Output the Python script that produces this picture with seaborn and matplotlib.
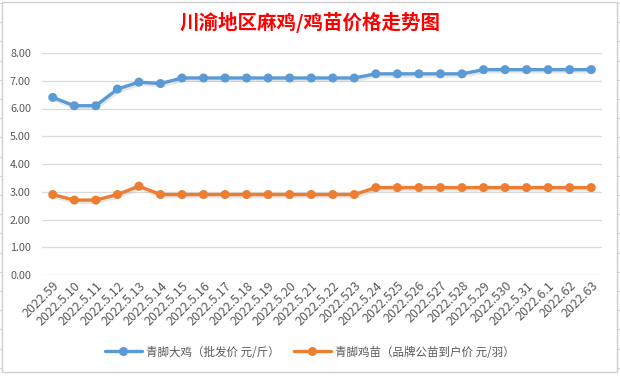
import numpy as np
import pandas as pd
import matplotlib
matplotlib.use("Agg")
import matplotlib.pyplot as plt
import matplotlib.patheffects as pe
from matplotlib.patches import Rectangle
from matplotlib.lines import Line2D
import seaborn as sns

# data
dates = ["2022.59", "2022.5.10", "2022.5.11", "2022.5.12", "2022.5.13", "2022.5.14",
         "2022.5.15", "2022.5.16", "2022.5.17", "2022.5.18", "2022.5.19", "2022.5.20",
         "2022.5.21", "2022.5.22", "2022.523", "2022.5.24", "2022.525", "2022.526",
         "2022.527", "2022.528", "2022.5.29", "2022.530", "2022.5.31", "2022.6.1",
         "2022.62", "2022.63"]
big_chicken = [6.40, 6.10, 6.10, 6.70, 6.95, 6.90, 7.10, 7.10, 7.10, 7.10, 7.10, 7.10,
               7.10, 7.10, 7.10, 7.25, 7.25, 7.25, 7.25, 7.25, 7.40, 7.40, 7.40, 7.40,
               7.40, 7.40]
chick = [2.90, 2.70, 2.70, 2.90, 3.20, 2.90, 2.90, 2.90, 2.90, 2.90, 2.90, 2.90,
         2.90, 2.90, 2.90, 3.15, 3.15, 3.15, 3.15, 3.15, 3.15, 3.15, 3.15, 3.15,
         3.15, 3.15]
series_names = ["青脚大鸡（批发价 元/斤）", "青脚鸡苗（品牌公苗到户价 元/羽）"]
title = "川渝地区麻鸡/鸡苗价格走势图"

sns.set_theme(style="white")
plt.rcParams['font.family'] = ['Noto Sans CJK SC', 'DejaVu Sans']

df = pd.DataFrame({"idx": list(range(len(dates))) * 2,
                   "price": big_chicken + chick,
                   "series": [series_names[0]] * len(dates) + [series_names[1]] * len(dates)})

fig = plt.figure(figsize=(6.2, 3.76), dpi=100)
fig.patch.set_facecolor("white")

# chart frame + spreadsheet row lines outside it
fig.patches.append(Rectangle((2 / 620, 1 - 372 / 376), 615 / 620, 370 / 376,
                             transform=fig.transFigure, fill=False,
                             edgecolor="#d0d0d0", linewidth=1))
for yy in np.arange(3, 376, 19.2):
    y = 1 - yy / 376
    fig.lines.append(Line2D([0, 2 / 620], [y, y], transform=fig.transFigure, color="#d0d0d0", lw=0.8))
    fig.lines.append(Line2D([617 / 620, 1], [y, y], transform=fig.transFigure, color="#d0d0d0", lw=0.8))

ax = fig.add_axes([42 / 620, 1 - 275 / 376, 560 / 620, 222 / 376])
palette = ["#5B9BD5", "#ED7D31"]
sns.lineplot(data=df, x="idx", y="price", hue="series", palette=palette, ax=ax,
             marker="o", markersize=6.5, markeredgewidth=0, linewidth=2.4, legend=False)

for line in ax.lines:
    line.set_path_effects([pe.SimpleLineShadow(offset=(0.8, -1.6), shadow_color="#b0b0b0", alpha=0.3),
                           pe.Normal()])

ax.set_xlim(-0.5, len(dates) - 0.5)
ax.set_ylim(0, 8)
ax.set_yticks(np.arange(0, 8.01, 1))
ax.set_yticklabels([f"{v:.2f}" for v in np.arange(0, 8.01, 1)], fontsize=7.8, color="#595959")
ax.set_xticks(range(len(dates)))
ax.set_xticklabels(dates, rotation=45, ha="right", rotation_mode="anchor",
                   fontsize=9, color="#595959")
ax.tick_params(axis="both", length=0)
ax.tick_params(axis="y", pad=8)
ax.tick_params(axis="x", pad=3)
ax.grid(axis="y", color="#d9d9d9", linewidth=0.9)
ax.set_axisbelow(True)
for s in ax.spines.values():
    s.set_visible(False)
ax.set_xlabel("")
ax.set_ylabel("")

fig.text(0.5, 1 - 22 / 376, title, ha="center", va="center", fontsize=14,
         fontweight="bold", color="#FF0000")

handles = [Line2D([], [], color=c, lw=2.4, marker="o", markersize=6.5, markeredgewidth=0) for c in palette]
fig.legend(handles, series_names, loc="center", bbox_to_anchor=(0.5, 1 - 352 / 376), ncol=2,
           frameon=False, fontsize=8.3, handlelength=3.2, columnspacing=1.2, handletextpad=0.4,
           labelcolor="#595959")

fig.savefig("out.png", dpi=100)
